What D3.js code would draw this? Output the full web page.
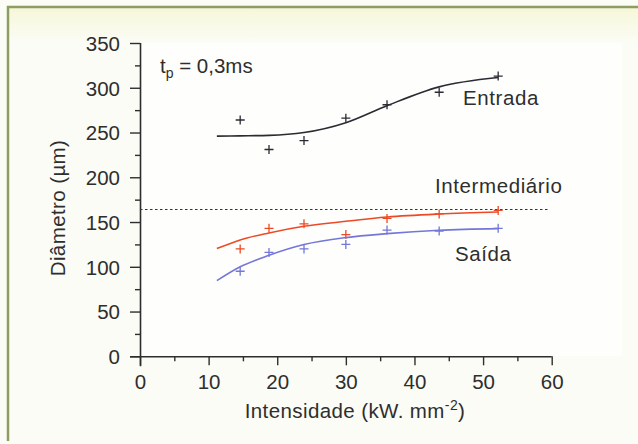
<!DOCTYPE html>
<html>
<head>
<meta charset="utf-8">
<script src="https://cdn.jsdelivr.net/npm/d3@7"></script>
<style>
  body { margin: 0; background: #fdfdf8; }
  svg { display: block; font-family: "Liberation Sans", Arial, sans-serif; }
</style>
</head>
<body>
<svg id="chart" width="638" height="444"></svg>
<script>
// measured points (x = intensidade, y = diametro)
const xPts = [14.6, 18.8, 23.9, 30.0, 36.0, 43.6, 52.2];
const entradaPts = [264, 231, 241, 266, 281, 295, 313];
const intermPts = [120, 143, 148, 136, 154, 159, 163];
const saidaPts = [95, 116, 120, 125, 141, 140, 143];

// fitted curves as drawn in the figure
const fitX = [11.2, 14.6, 18.8, 23.9, 30.0, 36.0, 43.6, 52.2];
const entradaFit = [246, 246.3, 246.8, 250, 261, 280, 301, 311.4];
const intermFit = [120.3, 130, 137.8, 145.2, 150.8, 155.6, 159, 161.2];
const saidaFit = [84.5, 100, 112.8, 124.8, 132.6, 137, 140.8, 142.6];

const intermedLevel = 164;
const xTicks = [0, 10, 20, 30, 40, 50, 60];
const yTicks = [0, 50, 100, 150, 200, 250, 300, 350];

const svg = d3.select('#chart');
const fs = 20.5;

// frame
svg.append('rect').attr('x', 0).attr('y', 0).attr('width', 638).attr('height', 444).attr('fill', '#fbfcf5');
let grad = svg.append('defs').append('linearGradient').attr('id', 'topband').attr('x1', 0).attr('x2', 0).attr('y1', 0).attr('y2', 1);
grad.append('stop').attr('offset', 0).attr('stop-color', '#f6f7d8');
grad.append('stop').attr('offset', 1).attr('stop-color', '#fbfcf5');
svg.append('rect').attr('x', 9).attr('y', 8).attr('width', 629).attr('height', 34).attr('fill', 'url(#topband)');
svg.append('path').attr('d', 'M8,441 V7 H638').attr('fill', 'none')
    .attr('stroke', '#8c9c62').attr('stroke-width', 2.5);

let margin = {top: 43, left: 140},
    width = 411.7,
    height = 313.3;

let g = svg.append('g').attr('transform', 'translate(' + margin.left + ',' + margin.top + ')');

let x = d3.scaleLinear().domain([0, 60]).range([0, width]);
let y = d3.scaleLinear().domain([0, 350]).range([height, 0]);

const ink = '#2e2e2e';

function customXAxis(sel) {
    sel.call(d3.axisBottom(x).tickValues(d3.range(0, 61, 5)).tickSize(9).tickSizeOuter(0)
        .tickFormat(d => xTicks.includes(d) ? d : ''));
    sel.select('.domain').attr('stroke', ink).attr('stroke-width', 1.6).attr('d', 'M-10,0.5H' + width);
    sel.selectAll('.tick line').attr('stroke', ink).attr('stroke-width', 1.4)
        .attr('y2', d => xTicks.includes(d) ? 9 : 5);
    sel.selectAll('.tick text').attr('fill', ink).attr('font-size', fs).attr('dy', '1.0em');
}

function customYAxis(sel) {
    sel.call(d3.axisLeft(y).tickValues(d3.range(0, 351, 25)).tickSize(10).tickSizeOuter(0)
        .tickFormat(d => yTicks.includes(d) ? d : ''));
    sel.select('.domain').attr('stroke', ink).attr('stroke-width', 1.6).attr('d', 'M0.5,0V' + (height + 10));
    sel.selectAll('.tick line').attr('stroke', ink).attr('stroke-width', 1.4)
        .attr('x2', d => yTicks.includes(d) ? -10 : -5);
    sel.selectAll('.tick text').attr('fill', ink).attr('font-size', fs).attr('x', -20).attr('dy', '0.36em');
}

// white plot area
g.append('rect').attr('x', 2).attr('y', 0).attr('width', 480).attr('height', height)
    .attr('fill', '#ffffff').attr('opacity', 0.7);

g.append('g').attr('transform', 'translate(0,' + height + ')').call(customXAxis);
g.append('g').call(customYAxis);

// dotted reference line
g.append('line')
    .attr('x1', x(0)).attr('x2', x(59.6))
    .attr('y1', y(intermedLevel)).attr('y2', y(intermedLevel))
    .attr('stroke', '#333').attr('stroke-width', 1.2).attr('stroke-dasharray', '2.5,2.5');

const series = [
    {pts: entradaPts, fit: entradaFit, color: '#2b2b33'},
    {pts: intermPts, fit: intermFit, color: '#ec4a26'},
    {pts: saidaPts, fit: saidaFit, color: '#7377d8'}
];

let line = d3.line().x((d, i) => x(fitX[i])).y(d => y(d)).curve(d3.curveMonotoneX);

series.forEach(function (s) {
    g.append('path').datum(s.fit).attr('d', line)
        .attr('fill', 'none').attr('stroke', s.color).attr('stroke-width', 1.6);

    g.selectAll(null).data(s.pts).enter().append('path')
        .attr('d', (d, i) => {
            let cx = x(xPts[i]), cy = y(d);
            return 'M' + (cx - 4.5) + ',' + cy + 'H' + (cx + 4.5) + 'M' + cx + ',' + (cy - 4.5) + 'V' + (cy + 4.5);
        })
        .attr('stroke', s.color).attr('stroke-width', 1.3);
});

// labels
let tp = svg.append('text').attr('x', 160).attr('y', 73).attr('font-size', fs).attr('fill', ink);
tp.append('tspan').text('t');
tp.append('tspan').attr('font-size', 14).attr('dy', 5).text('p');
tp.append('tspan').attr('dy', -5).text(' = 0,3ms');

function label(txt, lx, ly) {
    svg.append('text').attr('x', lx).attr('y', ly).attr('font-size', fs)
        .attr('letter-spacing', 0.6).attr('fill', ink).text(txt);
}
label('Entrada', 463, 105);
label('Intermediário', 435, 193);
label('Saída', 455, 261);

svg.append('text').attr('transform', 'translate(65,' + 208 + ') rotate(-90)')
    .attr('text-anchor', 'middle').attr('font-size', fs).attr('letter-spacing', 0.4)
    .attr('fill', ink).text('Diâmetro (µm)');

let xl = svg.append('text').attr('x', 355).attr('y', 418).attr('text-anchor', 'middle')
    .attr('font-size', fs).attr('letter-spacing', 0.4).attr('fill', ink);
xl.append('tspan').text('Intensidade (kW. mm');
xl.append('tspan').attr('font-size', 14).attr('dy', -8).text('-2');
xl.append('tspan').attr('dy', 8).text(')');
</script>
</body>
</html>
